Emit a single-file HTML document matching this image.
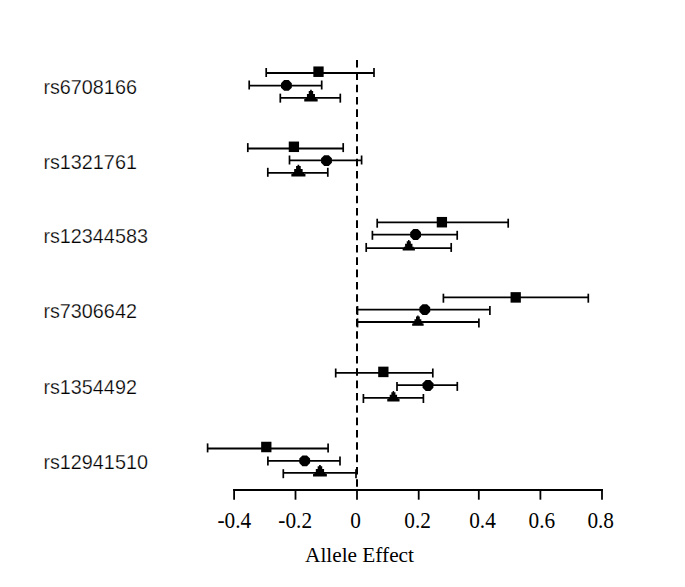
<!DOCTYPE html>
<html><head><meta charset="utf-8"><style>
html,body{margin:0;padding:0;background:#fff;}
body{width:685px;height:587px;overflow:hidden;}
svg{display:block;}
.tk{font-family:"Liberation Serif",serif;font-size:21.3px;fill:#000;}
.lb{font-family:"Liberation Sans",sans-serif;font-size:19.8px;fill:#000;stroke:#fff;stroke-width:0.25px;}
</style></head><body>
<svg width="685" height="587" viewBox="0 0 685 587">
<line x1="357" y1="60" x2="357" y2="489" stroke="#000" stroke-width="2" stroke-dasharray="7.6 4.73"/>
<line x1="266.2" y1="73.0" x2="374.0" y2="73.0" stroke="#000" stroke-width="1.8"/>
<line x1="266.2" y1="68.0" x2="266.2" y2="77.0" stroke="#000" stroke-width="1.7"/>
<line x1="374.0" y1="68.0" x2="374.0" y2="77.0" stroke="#000" stroke-width="1.7"/>
<rect x="313.35" y="66.45" width="10.3" height="10.5" fill="#000"/>
<line x1="249.2" y1="85.6" x2="321.7" y2="85.6" stroke="#000" stroke-width="1.8"/>
<line x1="249.2" y1="80.5" x2="249.2" y2="89.5" stroke="#000" stroke-width="1.7"/>
<line x1="321.7" y1="80.5" x2="321.7" y2="89.5" stroke="#000" stroke-width="1.7"/>
<polygon points="291.80,87.64 288.64,90.80 284.16,90.80 281.00,87.64 281.00,83.16 284.16,80.00 288.64,80.00 291.80,83.16" fill="#000"/>
<line x1="280.3" y1="97.9" x2="340.3" y2="97.9" stroke="#000" stroke-width="1.8"/>
<line x1="280.3" y1="93.65" x2="280.3" y2="102.65" stroke="#000" stroke-width="1.7"/>
<line x1="340.3" y1="93.65" x2="340.3" y2="102.65" stroke="#000" stroke-width="1.7"/>
<polygon points="317.65,101.60 317.65,98.98 316.31,98.98 316.31,97.20 314.97,97.20 314.97,93.98 313.16,93.98 313.16,91.01 311.75,91.01 311.75,89.70 310.15,89.70 310.15,91.01 308.74,91.01 308.74,93.98 306.93,93.98 306.93,97.20 305.59,97.20 305.59,98.98 304.25,98.98 304.25,101.60" fill="#000"/>
<line x1="247.8" y1="148.5" x2="343.2" y2="148.5" stroke="#000" stroke-width="1.8"/>
<line x1="247.8" y1="143.1" x2="247.8" y2="152.1" stroke="#000" stroke-width="1.7"/>
<line x1="343.2" y1="143.1" x2="343.2" y2="152.1" stroke="#000" stroke-width="1.7"/>
<rect x="288.75" y="141.55" width="10.3" height="10.5" fill="#000"/>
<line x1="289.5" y1="160.4" x2="361.6" y2="160.4" stroke="#000" stroke-width="1.8"/>
<line x1="289.5" y1="155.5" x2="289.5" y2="164.5" stroke="#000" stroke-width="1.7"/>
<line x1="361.6" y1="155.5" x2="361.6" y2="164.5" stroke="#000" stroke-width="1.7"/>
<polygon points="331.90,162.84 328.74,166.00 324.26,166.00 321.10,162.84 321.10,158.36 324.26,155.20 328.74,155.20 331.90,158.36" fill="#000"/>
<line x1="267.8" y1="172.9" x2="327.8" y2="172.9" stroke="#000" stroke-width="1.8"/>
<line x1="267.8" y1="167.8" x2="267.8" y2="176.8" stroke="#000" stroke-width="1.7"/>
<line x1="327.8" y1="167.8" x2="327.8" y2="176.8" stroke="#000" stroke-width="1.7"/>
<polygon points="305.45,176.60 305.45,173.98 304.04,173.98 304.04,172.20 302.63,172.20 302.63,168.98 300.73,168.98 300.73,166.01 299.25,166.01 299.25,164.70 297.55,164.70 297.55,166.01 296.07,166.01 296.07,168.98 294.17,168.98 294.17,172.20 292.76,172.20 292.76,173.98 291.35,173.98 291.35,176.60" fill="#000"/>
<line x1="377.2" y1="222.3" x2="508.2" y2="222.3" stroke="#000" stroke-width="1.8"/>
<line x1="377.2" y1="218.7" x2="377.2" y2="227.7" stroke="#000" stroke-width="1.7"/>
<line x1="508.2" y1="218.7" x2="508.2" y2="227.7" stroke="#000" stroke-width="1.7"/>
<rect x="436.75" y="216.95" width="10.3" height="10.5" fill="#000"/>
<line x1="372.4" y1="234.6" x2="457.2" y2="234.6" stroke="#000" stroke-width="1.8"/>
<line x1="372.4" y1="230.8" x2="372.4" y2="239.8" stroke="#000" stroke-width="1.7"/>
<line x1="457.2" y1="230.8" x2="457.2" y2="239.8" stroke="#000" stroke-width="1.7"/>
<polygon points="421.00,236.74 417.84,239.90 413.36,239.90 410.20,236.74 410.20,232.26 413.36,229.10 417.84,229.10 421.00,232.26" fill="#000"/>
<line x1="366.2" y1="248.2" x2="451.2" y2="248.2" stroke="#000" stroke-width="1.8"/>
<line x1="366.2" y1="242.95" x2="366.2" y2="251.95" stroke="#000" stroke-width="1.7"/>
<line x1="451.2" y1="242.95" x2="451.2" y2="251.95" stroke="#000" stroke-width="1.7"/>
<polygon points="414.90,250.60 414.90,248.27 413.68,248.27 413.68,246.68 412.45,246.68 412.45,243.82 410.80,243.82 410.80,241.17 409.51,241.17 409.51,240.00 408.04,240.00 408.04,241.17 406.75,241.17 406.75,243.82 405.10,243.82 405.10,246.68 403.87,246.68 403.87,248.27 402.65,248.27 402.65,250.60" fill="#000"/>
<line x1="443.4" y1="297.4" x2="588.3" y2="297.4" stroke="#000" stroke-width="1.8"/>
<line x1="443.4" y1="293.7" x2="443.4" y2="302.7" stroke="#000" stroke-width="1.7"/>
<line x1="588.3" y1="293.7" x2="588.3" y2="302.7" stroke="#000" stroke-width="1.7"/>
<rect x="510.55" y="292.15" width="10.3" height="10.5" fill="#000"/>
<line x1="357.5" y1="309.7" x2="489.9" y2="309.7" stroke="#000" stroke-width="1.8"/>
<line x1="357.5" y1="306.0" x2="357.5" y2="315.0" stroke="#000" stroke-width="1.7"/>
<line x1="489.9" y1="306.0" x2="489.9" y2="315.0" stroke="#000" stroke-width="1.7"/>
<polygon points="430.20,311.84 427.04,315.00 422.56,315.00 419.40,311.84 419.40,307.36 422.56,304.20 427.04,304.20 430.20,307.36" fill="#000"/>
<line x1="357.5" y1="322.0" x2="478.9" y2="322.0" stroke="#000" stroke-width="1.8"/>
<line x1="357.5" y1="318.4" x2="357.5" y2="327.4" stroke="#000" stroke-width="1.7"/>
<line x1="478.9" y1="318.4" x2="478.9" y2="327.4" stroke="#000" stroke-width="1.7"/>
<polygon points="423.65,325.80 423.65,323.51 422.50,323.51 422.50,321.95 421.35,321.95 421.35,319.14 419.80,319.14 419.80,316.54 418.59,316.54 418.59,315.40 417.21,315.40 417.21,316.54 416.00,316.54 416.00,319.14 414.45,319.14 414.45,321.95 413.30,321.95 413.30,323.51 412.15,323.51 412.15,325.80" fill="#000"/>
<line x1="335.7" y1="372.9" x2="432.8" y2="372.9" stroke="#000" stroke-width="1.8"/>
<line x1="335.7" y1="368.5" x2="335.7" y2="377.5" stroke="#000" stroke-width="1.7"/>
<line x1="432.8" y1="368.5" x2="432.8" y2="377.5" stroke="#000" stroke-width="1.7"/>
<rect x="378.20" y="366.65" width="10.3" height="10.5" fill="#000"/>
<line x1="397.0" y1="385.2" x2="457.3" y2="385.2" stroke="#000" stroke-width="1.8"/>
<line x1="397.0" y1="381.9" x2="397.0" y2="390.9" stroke="#000" stroke-width="1.7"/>
<line x1="457.3" y1="381.9" x2="457.3" y2="390.9" stroke="#000" stroke-width="1.7"/>
<polygon points="433.40,387.74 430.24,390.90 425.76,390.90 422.60,387.74 422.60,383.26 425.76,380.10 430.24,380.10 433.40,383.26" fill="#000"/>
<line x1="363.4" y1="397.8" x2="423.4" y2="397.8" stroke="#000" stroke-width="1.8"/>
<line x1="363.4" y1="394.0" x2="363.4" y2="403.0" stroke="#000" stroke-width="1.7"/>
<line x1="423.4" y1="394.0" x2="423.4" y2="403.0" stroke="#000" stroke-width="1.7"/>
<polygon points="399.55,401.40 399.55,399.11 398.32,399.11 398.32,397.55 397.09,397.55 397.09,394.74 395.43,394.74 395.43,392.14 394.14,392.14 394.14,391.00 392.66,391.00 392.66,392.14 391.37,392.14 391.37,394.74 389.71,394.74 389.71,397.55 388.48,397.55 388.48,399.11 387.25,399.11 387.25,401.40" fill="#000"/>
<line x1="207.6" y1="448.5" x2="328.1" y2="448.5" stroke="#000" stroke-width="1.8"/>
<line x1="207.6" y1="443.4" x2="207.6" y2="452.4" stroke="#000" stroke-width="1.7"/>
<line x1="328.1" y1="443.4" x2="328.1" y2="452.4" stroke="#000" stroke-width="1.7"/>
<rect x="261.15" y="441.75" width="10.3" height="10.5" fill="#000"/>
<line x1="267.9" y1="460.9" x2="340.0" y2="460.9" stroke="#000" stroke-width="1.8"/>
<line x1="267.9" y1="456.5" x2="267.9" y2="465.5" stroke="#000" stroke-width="1.7"/>
<line x1="340.0" y1="456.5" x2="340.0" y2="465.5" stroke="#000" stroke-width="1.7"/>
<polygon points="310.10,463.04 306.94,466.20 302.46,466.20 299.30,463.04 299.30,458.56 302.46,455.40 306.94,455.40 310.10,458.56" fill="#000"/>
<line x1="283.3" y1="472.8" x2="356.0" y2="472.8" stroke="#000" stroke-width="1.8"/>
<line x1="283.3" y1="469.2" x2="283.3" y2="478.2" stroke="#000" stroke-width="1.7"/>
<line x1="356.0" y1="469.2" x2="356.0" y2="478.2" stroke="#000" stroke-width="1.7"/>
<polygon points="326.85,476.60 326.85,474.03 325.47,474.03 325.47,472.27 324.09,472.27 324.09,469.11 322.23,469.11 322.23,466.19 320.78,466.19 320.78,464.90 319.12,464.90 319.12,466.19 317.67,466.19 317.67,469.11 315.81,469.11 315.81,472.27 314.43,472.27 314.43,474.03 313.05,474.03 313.05,476.60" fill="#000"/>
<line x1="233.1" y1="490" x2="603" y2="490" stroke="#000" stroke-width="2"/>
<line x1="234.10" y1="489" x2="234.10" y2="499.7" stroke="#000" stroke-width="1.8"/>
<text transform="translate(234.25,527.9) scale(1,1.07)" text-anchor="middle" class="tk">-0.4</text>
<line x1="295.50" y1="489" x2="295.50" y2="499.7" stroke="#000" stroke-width="1.8"/>
<text transform="translate(295.20,527.9) scale(1,1.07)" text-anchor="middle" class="tk">-0.2</text>
<line x1="357.00" y1="489" x2="357.00" y2="499.7" stroke="#000" stroke-width="1.8"/>
<text transform="translate(355.60,527.9) scale(1,1.07)" text-anchor="middle" class="tk">0</text>
<line x1="418.70" y1="489" x2="418.70" y2="499.7" stroke="#000" stroke-width="1.8"/>
<text transform="translate(417.60,527.9) scale(1,1.07)" text-anchor="middle" class="tk">0.2</text>
<line x1="478.80" y1="489" x2="478.80" y2="499.7" stroke="#000" stroke-width="1.8"/>
<text transform="translate(482.50,527.9) scale(1,1.07)" text-anchor="middle" class="tk">0.4</text>
<line x1="540.40" y1="489" x2="540.40" y2="499.7" stroke="#000" stroke-width="1.8"/>
<text transform="translate(541.90,527.9) scale(1,1.07)" text-anchor="middle" class="tk">0.6</text>
<line x1="602.00" y1="489" x2="602.00" y2="499.7" stroke="#000" stroke-width="1.8"/>
<text transform="translate(600.70,527.9) scale(1,1.07)" text-anchor="middle" class="tk">0.8</text>
<text x="359.5" y="562.2" text-anchor="middle" class="tk">Allele Effect</text>
<text x="43.4" y="93.80" class="lb">rs6708166</text>
<text x="43.4" y="169.30" class="lb">rs1321761</text>
<text x="43.4" y="243.10" class="lb">rs12344583</text>
<text x="43.4" y="318.20" class="lb">rs7306642</text>
<text x="43.4" y="393.70" class="lb">rs1354492</text>
<text x="43.4" y="469.30" class="lb">rs12941510</text>
</svg>
</body></html>
